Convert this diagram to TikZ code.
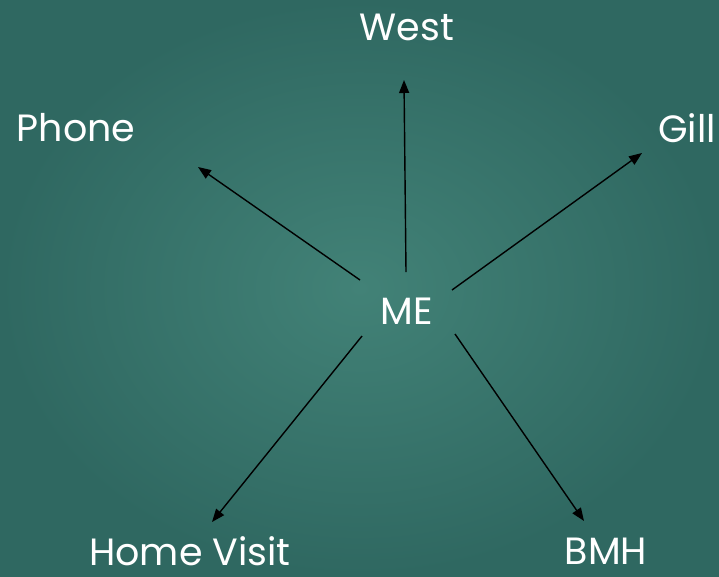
\documentclass[tikz,border=0pt]{standalone}
\usepackage{fontspec}
\setmainfont{Poppins}
\usetikzlibrary{arrows.meta}
\definecolor{bgin}{RGB}{66,130,119}
\definecolor{bgout}{RGB}{47,104,97}
\begin{document}
\begin{tikzpicture}[x=1pt,y=-1pt,
  lbl/.style={text=white,font=\fontsize{38}{44}\selectfont,inner sep=0pt},
  arr/.style={-{Triangle[length=13pt,width=10pt]},line width=1.4pt,black}]
\shade[inner color=bgin,outer color=bgout] (0,0) rectangle (719,576);
\useasboundingbox (0,0) rectangle (719,576);
\node[lbl] (ME) at (407,311) {ME};
\node[lbl] (West) at (407,27) {West};
\node[lbl] (Phone) at (76,128) {Phone};
\node[lbl] (Gill) at (687,128) {Gill};
\node[lbl] (Home) at (190,551) {Home Visit};
\node[lbl] (BMH) at (606,551) {BMH};
\coordinate (sW) at (406,272); \coordinate (eW) at (404,80);
\coordinate (sP) at (360,280); \coordinate (eP) at (198,167);
\coordinate (sG) at (452,290); \coordinate (eG) at (642,153);
\coordinate (sH) at (362,336); \coordinate (eH) at (212,522);
\coordinate (sB) at (455,334); \coordinate (eB) at (584,521);
\draw[arr] (sW) -- (eW);
\draw[arr] (sP) -- (eP);
\draw[arr] (sG) -- (eG);
\draw[arr] (sH) -- (eH);
\draw[arr] (sB) -- (eB);
\end{tikzpicture}
\end{document}
